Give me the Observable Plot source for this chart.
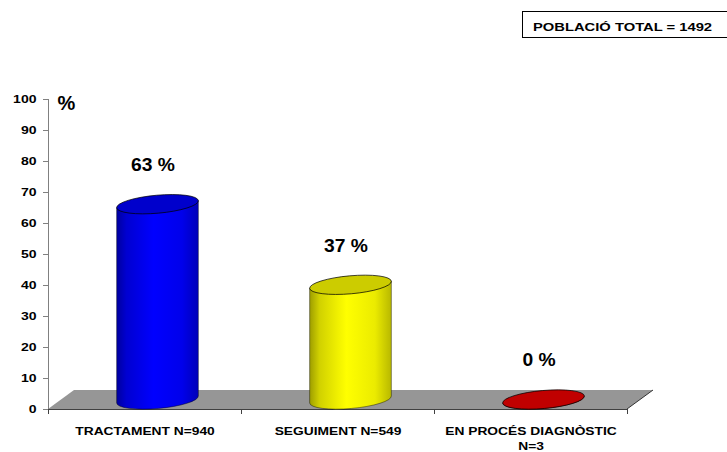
<!DOCTYPE html>
<html>
<head>
<meta charset="utf-8">
<script src="https://cdn.jsdelivr.net/npm/d3@7"></script>
<script src="https://cdn.jsdelivr.net/npm/@observablehq/plot@0.6"></script>
<style>
html, body { margin: 0; padding: 0; background: #fff; overflow: hidden; }
#wrap { position: relative; width: 727px; height: 452px; }
#title { position: absolute; left: 522px; top: 11px; width: 230px; height: 27px; border: 1px solid #000; box-sizing: border-box; font-family: Arial, "Liberation Sans", sans-serif; font-weight: bold; font-size: 11.8px; line-height: 12px; }
#title span { position: absolute; left: 10px; top: 9px; white-space: nowrap; transform: scaleX(1.25); transform-origin: left center; }
</style>
</head>
<body>
<div id="wrap"><div id="title"><span id="titleText"></span></div></div>
<script>
// ---- data ----
const tickLabels = ["TRACTAMENT N=940", "SEGUIMENT N=549", "EN PROCÉS DIAGNÒSTIC\nN=3"];
const percents = [63, 37, 0];
const sideColors = ["#0000FF", "#FFFF00", "#D00000"];
const topColors = ["#0000CC", "#CCCC00", "#C00000"];
const yTicks = [0, 10, 20, 30, 40, 50, 60, 70, 80, 90, 100];
const totalLabel = "POBLACIÓ TOTAL = 1492";
const unitLabel = ["%"];

document.getElementById("titleText").textContent = totalLabel;

const rows = tickLabels.map((label, i) => ({
  pos: i + 0.5, label, pct: percents[i], side: sideColors[i], top: topColors[i]
}));

const depthX = 26, depthY = 19;

function floor(index, scales) {
  const {x, y} = scales;
  const g = d3.create("svg:g");
  const x0 = x(0), x1 = x(tickLabels.length), y0 = y(0);
  g.append("path")
    .attr("d", `M${x0},${y0}L${x1},${y0}L${x1 + depthX},${y0 - depthY}L${x0 + depthX},${y0 - depthY}Z`)
    .attr("fill", "#969696");
  g.append("path")
    .attr("d", `M${x1},${y0}L${x1 + depthX},${y0 - depthY}`)
    .attr("stroke", "#333").attr("fill", "none");
  return g.node();
}

function cylinders(index, scales) {
  const {x, y} = scales;
  const g = d3.create("svg:g");
  const defs = g.append("defs");
  const rx = 41, ry = 9, ang = -5;
  const ex = rx * Math.cos(ang * Math.PI / 180), ey = rx * Math.sin(ang * Math.PI / 180);
  rows.forEach((d, k) => {
    const c = d3.color(d.side);
    const id = "cylgrad" + k;
    const lg = defs.append("linearGradient").attr("id", id).attr("x1", "0").attr("x2", "1").attr("y1", "0").attr("y2", "0");
    [[0, 0.62], [0.12, 0.82], [0.45, 1], [0.8, 0.92], [1, 0.72]].forEach(([o, f]) => {
      lg.append("stop").attr("offset", o).attr("stop-color", d3.rgb(c.r * f, c.g * f, c.b * f).formatHex());
    });
    const cx = x(d.pos) + depthX / 2;
    const cyB = y(0) - depthY / 2;
    const cyT = y(d.pct) - depthY / 2;
    const lx = cx - ex, rxp = cx + ex;
    const path = `M${lx},${cyT - ey}L${lx},${cyB - ey}A${rx},${ry} ${ang} 0 0 ${rxp},${cyB + ey}L${rxp},${cyT + ey}Z`;
    g.append("path").attr("d", path).attr("fill", `url(#${id})`)
      .attr("stroke", "#000").attr("stroke-width", 0.6).attr("stroke-opacity", 0.7);
    g.append("ellipse").attr("cx", cx).attr("cy", cyT).attr("rx", rx).attr("ry", ry)
      .attr("transform", `rotate(${ang} ${cx} ${cyT})`)
      .attr("fill", d.top).attr("stroke", "#000").attr("stroke-width", 0.7);
  });
  return g.node();
}

const chart = Plot.plot({
  width: 727,
  height: 452,
  marginLeft: 48,
  marginRight: 100,
  marginTop: 99,
  marginBottom: 43,
  style: {fontFamily: "Arial, 'Liberation Sans', sans-serif", color: "#000", background: "#fff"},
  x: {domain: [0, tickLabels.length], axis: null},
  y: {domain: [0, 100], axis: null},
  marks: [
    floor,
    Plot.ruleY([0], {x1: 0, x2: tickLabels.length, stroke: "#404040"}),
    Plot.ruleX([0], {y1: 0, y2: 100, stroke: "#808080"}),
    Plot.axisY({ticks: yTicks, tickSize: 5, tickFormat: () => "", stroke: "#808080", label: null}),
    Plot.axisY({ticks: yTicks, tickSize: 0, tickPadding: 12, fontSize: 11.5, fontWeight: "bold", fill: "#000", label: null}),
    Plot.axisX({ticks: [0, 1, 2, 3], tickSize: 5, tickFormat: () => "", stroke: "#404040", label: null}),
    cylinders,
    Plot.text(rows, {x: "pos", y: () => 0, text: "label", dy: 15.5, lineAnchor: "top", lineHeight: 1.3, fontSize: 11.3, fontWeight: "bold", fill: "#000"}),
    Plot.text(rows, {x: "pos", y: "pct", text: d => `${d.pct} %`, dx: 8, dy: -49, fontSize: 18, fontWeight: "bold", fill: "#000"}),
    Plot.text(unitLabel, {x: () => 0, y: () => 100, text: d => d, dx: 18, dy: 4, fontSize: 20, fontWeight: "bold", fill: "#000"})
  ]
});

document.getElementById("wrap").prepend(chart);

// horizontal stretch of the small text (as in the reference rendering)
d3.select(chart).selectAll("text").each(function() {
  const fs = parseFloat(getComputedStyle(this).fontSize);
  const k = fs <= 12 ? 1.22 : fs < 19 ? 1.07 : 1;
  if (k === 1) return;
  const spans = this.querySelectorAll("tspan");
  const targets = spans.length ? Array.from(spans) : [this];
  targets.forEach(t => {
    const L = t.getComputedTextLength();
    if (L > 0) { t.setAttribute("textLength", L * k); t.setAttribute("lengthAdjust", "spacingAndGlyphs"); }
  });
});
</script>
</body>
</html>
